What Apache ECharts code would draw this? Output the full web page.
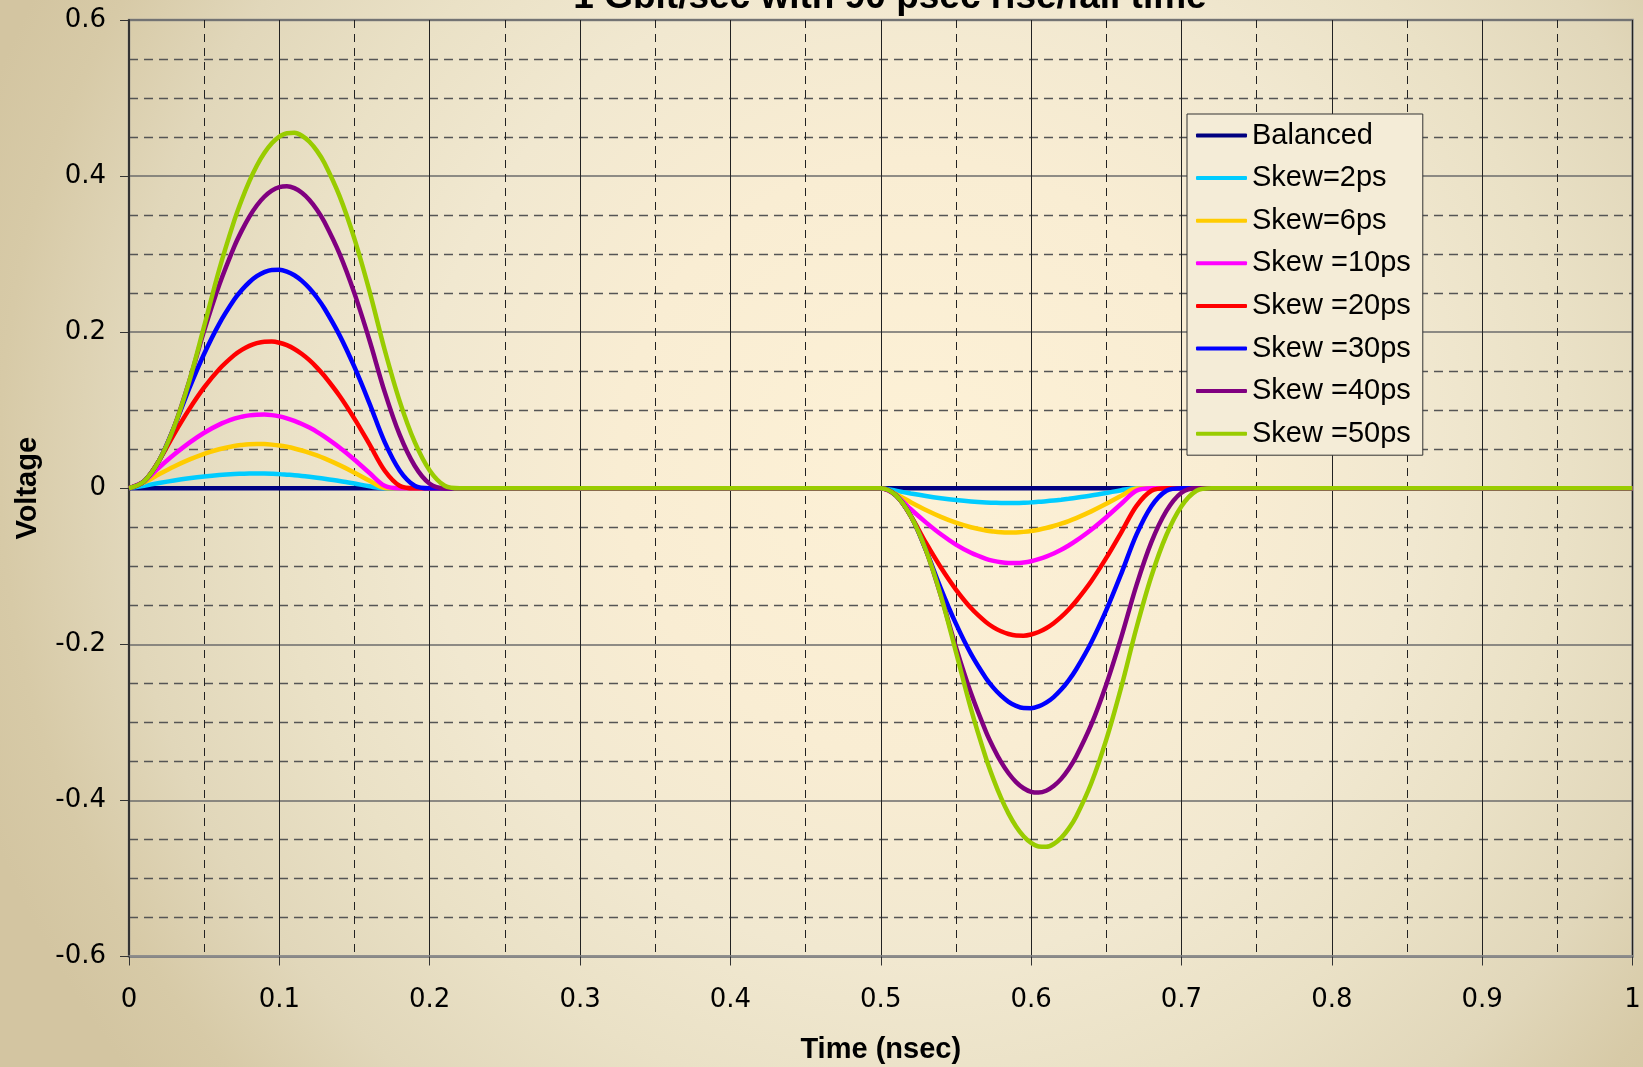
<!DOCTYPE html>
<html>
<head>
<meta charset="utf-8">
<title>Skew waveforms</title>
<script src="https://cdn.jsdelivr.net/npm/echarts@6/dist/echarts.min.js"></script>
<style>
  html, body { margin: 0; padding: 0; }
  #chart { width: 1643px; height: 1067px; }
</style>
</head>
<body>
<div id="chart"></div>
<script>
// time axis in nsec: positive lobe (denser near the peaks), flat part, negative lobe, end
var timeNs = [
  0, 0.01, 0.02, 0.03, 0.04, 0.05, 0.06, 0.07,
  0.075, 0.08, 0.085, 0.09, 0.095, 0.1, 0.105, 0.11, 0.115, 0.12, 0.125,
  0.13, 0.14, 0.15, 0.16, 0.17, 0.18, 0.19, 0.2, 0.21, 0.22, 0.23,
  0.49,
  0.5, 0.51, 0.52, 0.53, 0.54, 0.55, 0.56, 0.57,
  0.575, 0.58, 0.585, 0.59, 0.595, 0.6, 0.605, 0.61, 0.615, 0.62, 0.625,
  0.63, 0.64, 0.65, 0.66, 0.67, 0.68, 0.69, 0.7, 0.71, 0.72, 0.73,
  1
];

var balancedTime = [0, 1];
var balanced = [0, 0];

var skew2 = [
  0, 0.0032, 0.0067, 0.0099, 0.0127, 0.0151, 0.017, 0.0183,
  0.0186, 0.0189, 0.0189, 0.0188, 0.0185, 0.0181, 0.0174, 0.0167, 0.0158, 0.0147, 0.0135,
  0.0122, 0.0093, 0.006, 0.0025, 0, 0, 0, 0, 0, 0, 0,
  0,
  0, -0.0032, -0.0067, -0.0099, -0.0127, -0.0151, -0.017, -0.0183,
  -0.0186, -0.0189, -0.0189, -0.0188, -0.0185, -0.0181, -0.0174, -0.0167, -0.0158, -0.0147, -0.0135,
  -0.0122, -0.0093, -0.006, -0.0025, 0, 0, 0, 0, 0, 0, 0,
  0
];
var skew6 = [
  0, 0.0075, 0.0179, 0.0278, 0.0366, 0.0441, 0.05, 0.0542,
  0.0555, 0.0564, 0.0567, 0.0566, 0.0559, 0.0548, 0.0531, 0.051, 0.0484, 0.0454, 0.042,
  0.0382, 0.0296, 0.02, 0.0096, 0.0004, 0, 0, 0, 0, 0, 0,
  0,
  0, -0.0075, -0.0179, -0.0278, -0.0366, -0.0441, -0.05, -0.0542,
  -0.0555, -0.0564, -0.0567, -0.0566, -0.0559, -0.0548, -0.0531, -0.051, -0.0484, -0.0454, -0.042,
  -0.0382, -0.0296, -0.02, -0.0096, -0.0004, 0, 0, 0, 0, 0, 0,
  0
];
var skew10 = [
  0, 0.0089, 0.0265, 0.0431, 0.0581, 0.0711, 0.0815, 0.0891,
  0.0916, 0.0934, 0.0943, 0.0944, 0.0937, 0.0921, 0.0896, 0.0864, 0.0824, 0.0777, 0.0723,
  0.0662, 0.0523, 0.0366, 0.0195, 0.0032, 0, 0, 0, 0, 0, 0,
  0,
  0, -0.009, -0.0269, -0.0437, -0.059, -0.0722, -0.0827, -0.0904,
  -0.093, -0.0948, -0.0957, -0.0958, -0.0951, -0.0935, -0.0909, -0.0877, -0.0836, -0.0789, -0.0734,
  -0.0672, -0.0531, -0.0371, -0.0198, -0.0032, 0, 0, 0, 0, 0, 0,
  0
];
var skew20 = [
  0, 0.0089, 0.0354, 0.0695, 0.1011, 0.1292, 0.1526, 0.1706,
  0.1773, 0.1824, 0.1859, 0.1878, 0.188, 0.1865, 0.1833, 0.1785, 0.172, 0.1641, 0.1546,
  0.1438, 0.1185, 0.0889, 0.0561, 0.0228, 0.0032, 0, 0, 0, 0, 0,
  0,
  0, -0.0089, -0.0356, -0.0698, -0.1016, -0.1298, -0.1534, -0.1715,
  -0.1782, -0.1833, -0.1868, -0.1887, -0.1889, -0.1874, -0.1842, -0.1794, -0.1729, -0.1649, -0.1554,
  -0.1445, -0.1191, -0.0893, -0.0564, -0.0229, -0.0032, 0, 0, 0, 0, 0,
  0
];
var skew30 = [
  0, 0.0089, 0.0354, 0.0784, 0.1276, 0.1723, 0.2107, 0.2417,
  0.254, 0.264, 0.2717, 0.2769, 0.2797, 0.2799, 0.2776, 0.2729, 0.2657, 0.2562, 0.2444,
  0.2303, 0.1962, 0.1551, 0.1085, 0.0594, 0.0228, 0.0032, 0, 0, 0, 0,
  0,
  0, -0.009, -0.0356, -0.079, -0.1285, -0.1735, -0.2122, -0.2434,
  -0.2558, -0.2658, -0.2736, -0.2788, -0.2817, -0.2819, -0.2795, -0.2748, -0.2676, -0.258, -0.2461,
  -0.2319, -0.1976, -0.1562, -0.1093, -0.0598, -0.023, -0.0032, 0, 0, 0, 0,
  0
];
var skew40 = [
  0, 0.0089, 0.0354, 0.0784, 0.1366, 0.2019, 0.2604, 0.3096,
  0.3301, 0.3478, 0.3623, 0.3735, 0.3814, 0.3859, 0.3869, 0.3845, 0.3786, 0.3694, 0.3569,
  0.3411, 0.3006, 0.2494, 0.1893, 0.1238, 0.0686, 0.0288, 0.0057, 0, 0, 0,
  0,
  0, -0.009, -0.0357, -0.079, -0.1377, -0.2035, -0.2625, -0.3121,
  -0.3327, -0.3506, -0.3652, -0.3765, -0.3844, -0.389, -0.39, -0.3876, -0.3816, -0.3724, -0.3598,
  -0.3438, -0.303, -0.2514, -0.1908, -0.1248, -0.0691, -0.029, -0.0057, 0, 0, 0,
  0
];
var skew50 = [
  0, 0.0089, 0.0354, 0.0784, 0.1366, 0.2077, 0.2803, 0.3429,
  0.3697, 0.3932, 0.4132, 0.4295, 0.442, 0.4505, 0.455, 0.4554, 0.4517, 0.444, 0.4323,
  0.4168, 0.3746, 0.3193, 0.2523, 0.1778, 0.1117, 0.0594, 0.0228, 0.0032, 0, 0,
  0,
  0, -0.009, -0.0357, -0.0791, -0.1378, -0.2096, -0.2828, -0.346,
  -0.373, -0.3967, -0.4169, -0.4334, -0.446, -0.4545, -0.4591, -0.4595, -0.4558, -0.448, -0.4362,
  -0.4206, -0.378, -0.3222, -0.2546, -0.1794, -0.1127, -0.0599, -0.023, -0.0032, 0, 0,
  0
];

var seriesNames = ['Balanced', 'Skew=2ps', 'Skew=6ps', 'Skew =10ps', 'Skew =20ps', 'Skew =30ps', 'Skew =40ps', 'Skew =50ps'];
var seriesColors = ['#000080', '#00ccff', '#ffcc00', '#ff00ff', '#ff0000', '#0000ff', '#800080', '#99cc00'];
var seriesValues = [balanced, skew2, skew6, skew10, skew20, skew30, skew40, skew50];

function toPairs(times, vals) {
  return times.map(function (t, i) { return [t, vals[i]]; });
}

var series = seriesNames.map(function (name, i) {
  var times = i === 0 ? balancedTime : timeNs;
  return {
    name: name,
    type: 'line',
    showSymbol: false,
    smooth: 0.33,
    data: toPairs(times, seriesValues[i]),
    lineStyle: { width: 4.5, color: seriesColors[i] },
    itemStyle: { color: seriesColors[i] }
  };
});

var labelFmt = function (v) { return String(+v.toFixed(2)); };

var myChart = echarts.init(document.getElementById('chart'));
var option = {
  animation: false,
  color: seriesColors,
  backgroundColor: {
    type: 'radial', x: 920, y: 460, r: 1000, global: true,
    colorStops: [
      { offset: 0, color: '#fdf1d6' },
      { offset: 0.3, color: '#f9edd3' },
      { offset: 0.5, color: '#f1e8d0' },
      { offset: 0.65, color: '#eae1c6' },
      { offset: 0.8, color: '#e1d7ba' },
      { offset: 0.92, color: '#d7caa7' },
      { offset: 1, color: '#d3c5a1' }
    ]
  },
  title: {
    text: '1 Gbit/sec with 90 psec rise/fall time',
    left: 885,
    top: -26,
    textAlign: 'center',
    textStyle: { fontFamily: 'Liberation Sans', fontWeight: 'bold', fontSize: 37, color: '#000' }
  },
  legend: {
    orient: 'vertical',
    left: 1187,
    top: 114,
    padding: [7, 12, 7, 9],
    itemGap: 13.6,
    itemWidth: 51,
    itemHeight: 4,
    icon: 'roundRect',
    backgroundColor: '#f4ecd7',
    borderColor: '#333',
    borderWidth: 1,
    textStyle: { fontFamily: 'Liberation Sans', fontSize: 29, lineHeight: 29, color: '#000' },
    data: seriesNames
  },
  grid: {
    left: 129, top: 20, width: 1503.5, height: 936.5,
    outerBoundsMode: 'none',
    containLabel: false,
    show: true, borderColor: '#8a8a8a', borderWidth: 2.5, backgroundColor: 'transparent'
  },
  xAxis: {
    type: 'value',
    min: 0, max: 1, interval: 0.1,
    name: 'Time (nsec)',
    nameLocation: 'middle',
    nameGap: 79,
    nameTextStyle: { fontFamily: 'Liberation Sans', fontWeight: 'bold', fontSize: 29, color: '#000' },
    axisLine: { show: true, onZero: false, lineStyle: { color: '#8a8a8a', width: 2.5 } },
    axisTick: { show: true, length: 9, lineStyle: { color: '#333' } },
    axisLabel: { margin: 31, fontFamily: 'DejaVu Sans', fontSize: 26, color: '#000', formatter: labelFmt },
    splitLine: { show: true, lineStyle: { color: '#222', width: 1 } },
    minorTick: { show: false, splitNumber: 2 },
    minorSplitLine: { show: true, lineStyle: { color: '#222', width: 1, type: [8, 6] } }
  },
  yAxis: {
    type: 'value',
    min: -0.6, max: 0.6, interval: 0.2,
    name: 'Voltage',
    nameLocation: 'middle',
    nameGap: 87,
    nameTextStyle: { fontFamily: 'Liberation Sans', fontWeight: 'bold', fontSize: 29, color: '#000' },
    axisLine: { show: true, onZero: false, lineStyle: { color: '#333', width: 2 } },
    axisTick: { show: true, length: 9, lineStyle: { color: '#333' } },
    axisLabel: { margin: 23, fontFamily: 'DejaVu Sans', fontSize: 26, color: '#000', formatter: labelFmt },
    splitLine: { show: true, lineStyle: { color: '#6b6b6b', width: 1.5 } },
    minorTick: { show: false, splitNumber: 4 },
    minorSplitLine: { show: true, lineStyle: { color: '#555', width: 1.3, type: [9, 6] } }
  },
  series: series
};
myChart.setOption(option);
window.addEventListener('resize', function () {
  myChart.resize();
});
</script>
</body>
</html>
